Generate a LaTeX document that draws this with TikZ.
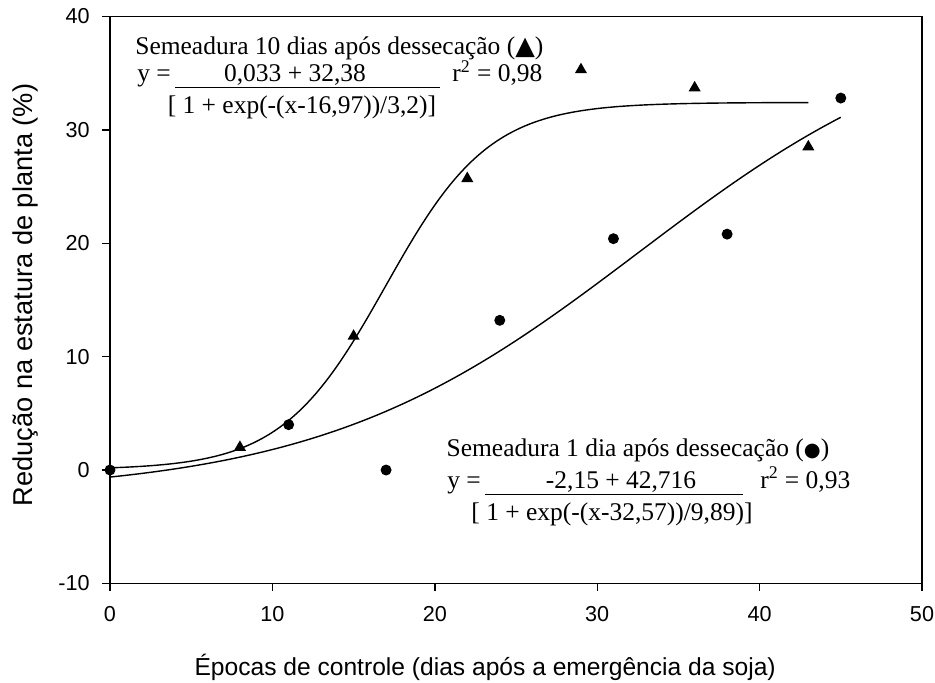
\documentclass[tikz,border=0pt]{standalone}
\usepackage{fontspec}
\setmainfont{Liberation Serif}
\setsansfont{Liberation Sans}
\newfontfamily\symfont{DejaVu Sans}
\usetikzlibrary{shapes.geometric}

\begin{document}
\begin{tikzpicture}[x=0.3248cm,y=0.2268cm,
  tri/.style={regular polygon,regular polygon sides=3,fill=black,inner sep=0pt,minimum size=0.28cm},
  dot/.style={circle,fill=black,inner sep=0pt,minimum size=0.22cm},
  ticklab/.style={font=\sffamily\fontsize{12.3}{14}\selectfont,inner sep=0pt},
  axlab/.style={font=\sffamily\fontsize{14}{16}\selectfont,inner sep=0pt},
  eqtext/.style={font=\rmfamily\fontsize{14.5}{16}\selectfont,inner sep=0pt},
  fitline/.style={black,line width=0.8pt}]
\tikzstyle{every node}+=[inner sep=0pt]
\useasboundingbox (-6.773,-18.695) rectangle (50.80,41.446);
% frame and ticks
\draw [black,line width=0.8pt] (0,-10) rectangle (50,40);
\draw [black,line width=0.8pt] (-0.49,-10) -- (0,-10);
\draw [black,line width=0.8pt] (-0.49,0) -- (0,0);
\draw [black,line width=0.8pt] (-0.49,10) -- (0,10);
\draw [black,line width=0.8pt] (-0.49,20) -- (0,20);
\draw [black,line width=0.8pt] (-0.49,30) -- (0,30);
\draw [black,line width=0.8pt] (-0.49,40) -- (0,40);
\node [ticklab,anchor=east] (ym10) at (-1.23,-10) {-10};
\node [ticklab,anchor=east] (y0) at (-1.23,0) {0};
\node [ticklab,anchor=east] (y10) at (-1.23,10) {10};
\node [ticklab,anchor=east] (y20) at (-1.23,20) {20};
\node [ticklab,anchor=east] (y30) at (-1.23,30) {30};
\node [ticklab,anchor=east] (y40) at (-1.23,40) {40};
\draw [black,line width=0.8pt] (0,-10) -- (0,-10.71);
\draw [black,line width=0.8pt] (10,-10) -- (10,-10.71);
\draw [black,line width=0.8pt] (20,-10) -- (20,-10.71);
\draw [black,line width=0.8pt] (30,-10) -- (30,-10.71);
\draw [black,line width=0.8pt] (40,-10) -- (40,-10.71);
\draw [black,line width=0.8pt] (50,-10) -- (50,-10.71);
\node [ticklab] (x0) at (0,-12.7) {0};
\node [ticklab] (x10) at (10,-12.7) {10};
\node [ticklab] (x20) at (20,-12.7) {20};
\node [ticklab] (x30) at (30,-12.7) {30};
\node [ticklab] (x40) at (40,-12.7) {40};
\node [ticklab] (x50) at (50,-12.7) {50};
% axis titles
\node [axlab,anchor=base] (xtitle) at (23.1,-18.08) {Épocas de controle (dias após a emergência da soja)};
\node [axlab,font=\sffamily\fontsize{15.5}{17}\selectfont,rotate=90] (ytitle) at (-5.23,15.43) {Redução na estatura de planta (\%)};
% fitted curves
\draw [fitline,domain=0:43,samples=120,smooth] plot (\x,{0.033+32.38/(1+exp(-(\x-16.97)/3.2))});
\draw [fitline,domain=0:45,samples=120,smooth] plot (\x,{-2.15+42.716/(1+exp(-(\x-32.57)/9.89))});
% 10 dias
\node [tri] (t8) at (8,2) {};
\node [tri] (t15) at (15,11.8) {};
\node [tri] (t22) at (22,25.7) {};
\node [tri] (t29) at (29,35.3) {};
\node [tri] (t36) at (36,33.7) {};
\node [tri] (t43) at (43,28.5) {};
% 1 dia
\node [dot] (c0) at (0,0) {};
\node [dot] (c11) at (11,4) {};
\node [dot] (c17) at (17,0) {};
\node [dot] (c24) at (24,13.2) {};
\node [dot] (c31) at (31,20.4) {};
\node [dot] (c38) at (38,20.8) {};
\node [dot] (c45) at (45,32.8) {};
% equation 10 dias
\node [eqtext,anchor=base west] (titA) at (1.54,36.60) {Semeadura 10 dias após dessecação ({\symfont\fontsize{14.5}{16}\selectfont ▲})};
\node [eqtext,anchor=base west] (yA) at (1.66,34.22) {y =};
\node [eqtext,anchor=base] (numA) at (11.39,34.22) {0,033 + 32,38};
\draw [black,line width=0.6pt] (4.00,33.77) -- (20.32,33.77);
\node [eqtext,anchor=base] (denA) at (11.82,31.48) {[ 1 + exp(-(x-16,97))/3,2)]};
\node [eqtext,anchor=base west] (rA) at (21.06,34.22) {r\textsuperscript{2} = 0,98};
% equation 1 dia
\node [eqtext,anchor=base] (titB) at (32.51,1.23) {Semeadura 1 dia após dessecação ({\symfont\fontsize{11}{13}\selectfont ●})};
\node [eqtext,anchor=base west] (yB) at (20.75,-1.59) {y =};
\node [eqtext,anchor=base] (numB) at (31.47,-1.59) {-2,15 + 42,716};
\draw [black,line width=0.6pt] (23.09,-2.12) -- (38.98,-2.12);
\node [eqtext,anchor=base] (denB) at (30.91,-4.41) {[ 1 + exp(-(x-32,57))/9,89)]};
\node [eqtext,anchor=base west] (rB) at (40.02,-1.59) {r\textsuperscript{2} = 0,93};
\end{tikzpicture}
\end{document}
